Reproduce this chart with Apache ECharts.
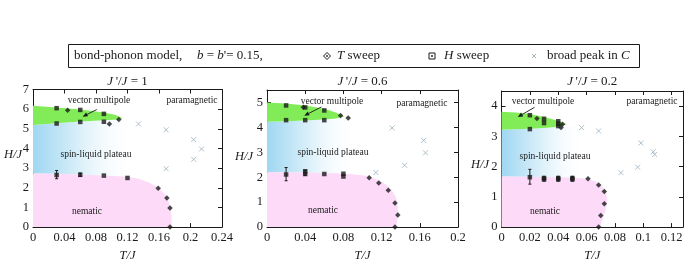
<!DOCTYPE html>
<html><head><meta charset="utf-8">
<script src="https://cdn.jsdelivr.net/npm/echarts@6/dist/echarts.min.js"></script>
<style>html,body{margin:0;padding:0;background:#fff}#c{width:686px;height:267px}</style>
</head><body><div id="c"></div>
<script>
// ---------- DATA ----------
const panelRatios = ["1", "0.6", "0.2"];
const xMax = [0.24, 0.2, 0.128];
const xInterval = [0.04, 0.04, 0.02];
const yMax = [7, 5.5, 4.5];
const yInterval = [1, 1, 1];

// J'/J = 1
const p1TSweep = [[0.044,5.95],[0.097,5.25],[0.109,5.47],[0.159,1.98],[0.17,1.48],[0.174,0.97],[0.174,0.0]];
const p1HSweep = [[0.03,6.05],[0.06,5.96],[0.09,5.76],[0.03,5.27],[0.06,5.35],[0.09,5.36],[0.03,2.65],[0.06,2.66],[0.09,2.62],[0.12,2.5]];
const p1ErrBars = [[0.03,2.46,2.88],[0.06,2.58,2.75]];
const p1BroadPeak = [[0.134,5.25],[0.169,4.95],[0.204,4.45],[0.214,3.97],[0.204,3.45],[0.169,2.97]];
const p1Vector = [[0,6.17],[0.03,6.09],[0.06,5.98],[0.09,5.83],[0.105,5.7],[0.114,5.54],[0.108,5.48],[0.09,5.43],[0.06,5.37],[0.03,5.28],[0,5.19]];
const p1Nematic = [[0,2.73],[0.03,2.71],[0.06,2.68],[0.09,2.63],[0.12,2.56],[0.135,2.45],[0.148,2.25],[0.16,1.98],[0.168,1.65],[0.172,1.3],[0.175,0.9],[0.176,0.4],[0.176,0],[0,0]];
const p1Plateau = [[0,5.19],[0.03,5.28],[0.06,5.37],[0.09,5.43],[0.12,5.5],[0.13,5.5],[0.13,2.52],[0.12,2.56],[0.09,2.63],[0.06,2.68],[0.03,2.71],[0,2.73]];
const p1Arrow = [[0.081,5.98,0.063,5.62]];

// J'/J = 0.6
const p2TSweep = [[0.038,4.81],[0.077,4.48],[0.085,4.38],[0.107,1.98],[0.117,1.77],[0.127,1.48],[0.134,0.97],[0.137,0.49],[0.134,0.0]];
const p2HSweep = [[0.02,4.88],[0.04,4.8],[0.06,4.68],[0.02,4.29],[0.04,4.29],[0.06,4.29],[0.02,2.11],[0.04,2.24],[0.04,2.13],[0.06,2.13],[0.08,2.14],[0.08,2.03]];
const p2ErrBars = [[0.02,1.86,2.39],[0.04,2.08,2.28]];
const p2BroadPeak = [[0.131,3.98],[0.164,3.48],[0.166,2.98],[0.144,2.48],[0.114,2.19]];
const p2Vector = [[0,5.0],[0.02,4.96],[0.04,4.88],[0.06,4.75],[0.072,4.6],[0.081,4.44],[0.072,4.36],[0.06,4.32],[0.04,4.28],[0.02,4.25],[0,4.23]];
const p2Nematic = [[0,2.2],[0.04,2.19],[0.08,2.15],[0.1,2.08],[0.112,1.96],[0.122,1.78],[0.13,1.52],[0.135,1.2],[0.137,0.8],[0.137,0.4],[0.135,0],[0,0]];
const p2Plateau = [[0,4.23],[0.02,4.25],[0.04,4.28],[0.06,4.32],[0.072,4.36],[0.095,4.4],[0.095,2.1],[0.08,2.15],[0.04,2.19],[0,2.2]];
const p2Arrow = [[0.057,4.82,0.039,4.47]];

// J'/J = 0.2
const p3TSweep = [[0.025,3.59],[0.043,3.4],[0.042,3.29],[0.061,1.6],[0.0685,1.39],[0.0725,1.18],[0.0725,0.77],[0.07,0.38],[0.0685,0.0]];
const p3HSweep = [[0.02,3.7],[0.03,3.58],[0.04,3.5],[0.02,3.24],[0.03,3.44],[0.04,3.42],[0.04,3.34],[0.02,1.65],[0.03,1.62],[0.03,1.58],[0.04,1.62],[0.04,1.58],[0.05,1.62],[0.05,1.58]];
const p3ErrBars = [[0.02,1.42,1.91],[0.03,1.52,1.68],[0.04,1.52,1.68],[0.05,1.52,1.68]];
const p3BroadPeak = [[0.0565,3.29],[0.0685,3.18],[0.0983,2.78],[0.107,2.49],[0.108,2.4],[0.096,1.98],[0.0842,1.8]];
const p3Vector = [[0,3.81],[0.01,3.79],[0.02,3.74],[0.03,3.64],[0.04,3.52],[0.046,3.4],[0.04,3.32],[0.03,3.28],[0.02,3.25],[0,3.22]];
const p3Nematic = [[0,1.67],[0.03,1.66],[0.05,1.64],[0.06,1.6],[0.066,1.52],[0.07,1.4],[0.0735,1.2],[0.0745,0.9],[0.073,0.5],[0.0705,0.15],[0.0695,0],[0,0]];
const p3Plateau = [[0,3.22],[0.02,3.25],[0.03,3.28],[0.04,3.32],[0.06,3.34],[0.06,1.6],[0.05,1.64],[0.03,1.66],[0,1.67]];
const p3Arrow = [[0.0233,3.96,0.0115,3.64]];

const tSweep = [p1TSweep, p2TSweep, p3TSweep];
const hSweep = [p1HSweep, p2HSweep, p3HSweep];
const errBars = [p1ErrBars, p2ErrBars, p3ErrBars];
const broadPeak = [p1BroadPeak, p2BroadPeak, p3BroadPeak];
const vectorRegion = [p1Vector, p2Vector, p3Vector];
const nematicRegion = [p1Nematic, p2Nematic, p3Nematic];
const plateauRegion = [p1Plateau, p2Plateau, p3Plateau];
const arrows = [p1Arrow, p2Arrow, p3Arrow];

// ---------- STYLE / LAYOUT ----------
const FONT = '"Liberation Serif","Times New Roman",serif';
const INK = '#1a1a1a';
const grids = [
  {left:33, top:89.5, width:189, height:145.5},
  {left:267, top:90, width:191, height:145.5},
  {left:501.5, top:91, width:181.5, height:144.5}
];
const textLabels = [
  [{t:'vector multipole',x:99,y:100},{t:'paramagnetic',x:192,y:100},{t:'spin-liquid plateau',x:96,y:154},{t:'nematic',x:87,y:211}],
  [{t:'vector multipole',x:332,y:101},{t:'paramagnetic',x:422,y:103},{t:'spin-liquid plateau',x:333,y:152},{t:'nematic',x:323,y:210}],
  [{t:'vector multipole',x:543,y:101},{t:'paramagnetic',x:652,y:101},{t:'spin-liquid plateau',x:555,y:156},{t:'nematic',x:545,y:211}]
];
const hjPos = [[13,155],[244,157],[480,165]];

const chart = echarts.init(document.getElementById('c'));

const xAxes = [], yAxes = [], series = [], graphics = [];
grids.forEach((g, i) => {
  const axisCommon = {
    type:'value', gridIndex:i, splitLine:{show:false},
    axisLine:{show:true, onZero:false, lineStyle:{color:INK, width:1}},
    axisTick:{show:true, inside:true, length:4, lineStyle:{color:INK, width:1}}
  };
  xAxes.push(Object.assign({}, axisCommon, {
    position:'bottom', min:0, max:xMax[i], interval:xInterval[i],
    axisLabel:{fontFamily:FONT, fontSize:12.5, color:INK, margin:4, showMaxLabel: i !== 2},
    name:'T/J', nameLocation:'middle', nameGap:16,
    nameTextStyle:{fontFamily:FONT, fontStyle:'italic', fontSize:12.5, color:INK}
  }));
  xAxes.push(Object.assign({}, axisCommon, {
    position:'top', min:0, max:xMax[i], interval:xInterval[i], axisLabel:{show:false}
  }));
  yAxes.push(Object.assign({}, axisCommon, {
    position:'left', min:0, max:yMax[i], interval:yInterval[i],
    axisLabel:{fontFamily:FONT, fontSize:12.5, color:INK, margin:4, showMaxLabel: i === 0}
  }));
  yAxes.push(Object.assign({}, axisCommon, {
    position:'right', min:0, max:yMax[i], interval:yInterval[i], axisLabel:{show:false}
  }));

  const xa = 2*i, ya = 2*i;
  const poly = (pts, fill, z) => ({
    type:'custom', xAxisIndex:xa, yAxisIndex:ya, z:z, silent:true,
    data:[[0,0]],
    renderItem:(p, api) => ({type:'polygon', shape:{points: pts.map(q => api.coord(q))}, style:{fill:fill}})
  });
  series.push(poly(plateauRegion[i], new echarts.graphic.LinearGradient(0,0,1,0,[
    {offset:0, color:'#9fd7f2'},{offset:0.45, color:'#d9eff9'},{offset:1, color:'rgba(255,255,255,0)'}]), 1));
  series.push(poly(nematicRegion[i], '#fcdaf8', 1));
  series.push(poly(vectorRegion[i], '#82ec58', 1));

  series.push({
    type:'custom', xAxisIndex:xa, yAxisIndex:ya, z:4, silent:true,
    data: errBars[i], encode:{x:0, y:[1,2]},
    renderItem:(p, api) => {
      const a = api.coord([api.value(0), api.value(1)]);
      const b = api.coord([api.value(0), api.value(2)]);
      const st = {stroke:INK, lineWidth:1};
      return {type:'group', children:[
        {type:'line', shape:{x1:a[0],y1:a[1],x2:b[0],y2:b[1]}, style:st},
        {type:'line', shape:{x1:a[0]-1.5,y1:a[1],x2:a[0]+1.5,y2:a[1]}, style:st},
        {type:'line', shape:{x1:b[0]-1.5,y1:b[1],x2:b[0]+1.5,y2:b[1]}, style:st}
      ]};
    }
  });
  series.push({type:'scatter', xAxisIndex:xa, yAxisIndex:ya, z:5, silent:true,
    data:hSweep[i], symbol:'rect', symbolSize:4.5, itemStyle:{color:INK}});
  series.push({type:'scatter', xAxisIndex:xa, yAxisIndex:ya, z:5, silent:true,
    data:tSweep[i], symbol:'diamond', symbolSize:5.5, itemStyle:{color:INK}});
  series.push({type:'scatter', xAxisIndex:xa, yAxisIndex:ya, z:5, silent:true,
    data:broadPeak[i], symbol:'path://M0,0L10,10M10,0L0,10', symbolSize:5,
    itemStyle:{color:'none', borderColor:'#9cb2bf', borderWidth:1}});
  series.push({
    type:'custom', xAxisIndex:xa, yAxisIndex:ya, z:6, silent:true,
    data: arrows[i], encode:{x:[0,2], y:[1,3]},
    renderItem:(p, api) => {
      const a = api.coord([api.value(0), api.value(1)]);
      const b = api.coord([api.value(2), api.value(3)]);
      const dx = b[0]-a[0], dy = b[1]-a[1], L = Math.hypot(dx,dy), ux = dx/L, uy = dy/L;
      const hl = 5, hw = 2.2;
      const base = [b[0]-ux*hl, b[1]-uy*hl];
      return {type:'group', children:[
        {type:'line', shape:{x1:a[0],y1:a[1],x2:base[0],y2:base[1]}, style:{stroke:INK, lineWidth:0.9}},
        {type:'polygon', shape:{points:[b,[base[0]-uy*hw, base[1]+ux*hw],[base[0]+uy*hw, base[1]-ux*hw]]}, style:{fill:INK}}
      ]};
    }
  });

  // panel title
  graphics.push({type:'text', x:g.left + g.width/2, y:82, silent:true, style:{
    text:'{i|J}\u2009\'/{i|J} = ' + panelRatios[i], align:'center', verticalAlign:'middle',
    fontFamily:FONT, fontSize:13, fill:INK,
    rich:{i:{fontStyle:'italic', fontFamily:FONT, fontSize:13, fill:INK}}}});
  // H/J axis name
  graphics.push({type:'text', x:hjPos[i][0], y:hjPos[i][1], silent:true, style:{
    text:'H/J', align:'center', verticalAlign:'middle', fontFamily:FONT, fontStyle:'italic', fontSize:12.5, fill:INK}});
  textLabels[i].forEach(l => graphics.push({type:'text', x:l.x, y:l.y, z:10, silent:true, style:{
    text:l.t, align:'center', verticalAlign:'middle', fontFamily:FONT, fontSize:9.5, fill:INK}}));
});

// legend box
const LY = 56;
const rich13 = {i:{fontStyle:'italic', fontFamily:FONT, fontSize:13, fill:INK}};
graphics.push({type:'rect', shape:{x:68.5, y:44.5, width:571, height:23}, style:{fill:'#fff', stroke:INK, lineWidth:1}});
graphics.push({type:'text', x:74, y:LY, style:{text:'bond-phonon model,', verticalAlign:'middle',
  fontFamily:FONT, fontSize:13, fill:INK}});
graphics.push({type:'text', x:197, y:LY, style:{text:'{i|b} = {i|b}\'= 0.15,', verticalAlign:'middle',
  fontFamily:FONT, fontSize:13, fill:INK, rich:rich13}});
graphics.push({type:'polygon', shape:{points:[[327,LY-3.5],[330.5,LY],[327,LY+3.5],[323.5,LY]]}, style:{fill:'#fff', stroke:INK, lineWidth:1}});
graphics.push({type:'circle', shape:{cx:327, cy:LY, r:0.9}, style:{fill:INK}});
graphics.push({type:'text', x:337, y:LY, style:{text:'{i|T} sweep', verticalAlign:'middle',
  fontFamily:FONT, fontSize:13, fill:INK, rich:rich13}});
graphics.push({type:'rect', shape:{x:429, y:LY-3, width:6, height:6}, style:{fill:'#fff', stroke:INK, lineWidth:1}});
graphics.push({type:'circle', shape:{cx:432, cy:LY, r:0.9}, style:{fill:INK}});
graphics.push({type:'text', x:444, y:LY, style:{text:'{i|H} sweep', verticalAlign:'middle',
  fontFamily:FONT, fontSize:13, fill:INK, rich:rich13}});
graphics.push({type:'group', children:[
  {type:'line', shape:{x1:532,y1:LY-2,x2:536,y2:LY+2}, style:{stroke:'#9cb2bf', lineWidth:1}},
  {type:'line', shape:{x1:536,y1:LY-2,x2:532,y2:LY+2}, style:{stroke:'#9cb2bf', lineWidth:1}}]});
graphics.push({type:'text', x:547, y:LY, style:{text:'broad peak in {i|C}', verticalAlign:'middle',
  fontFamily:FONT, fontSize:13, fill:INK, rich:rich13}});

chart.setOption({
  animation:false,
  backgroundColor:'#fff',
  grid: grids,
  xAxis: xAxes,
  yAxis: yAxes,
  series: series,
  graphic: graphics
});
</script></body></html>
